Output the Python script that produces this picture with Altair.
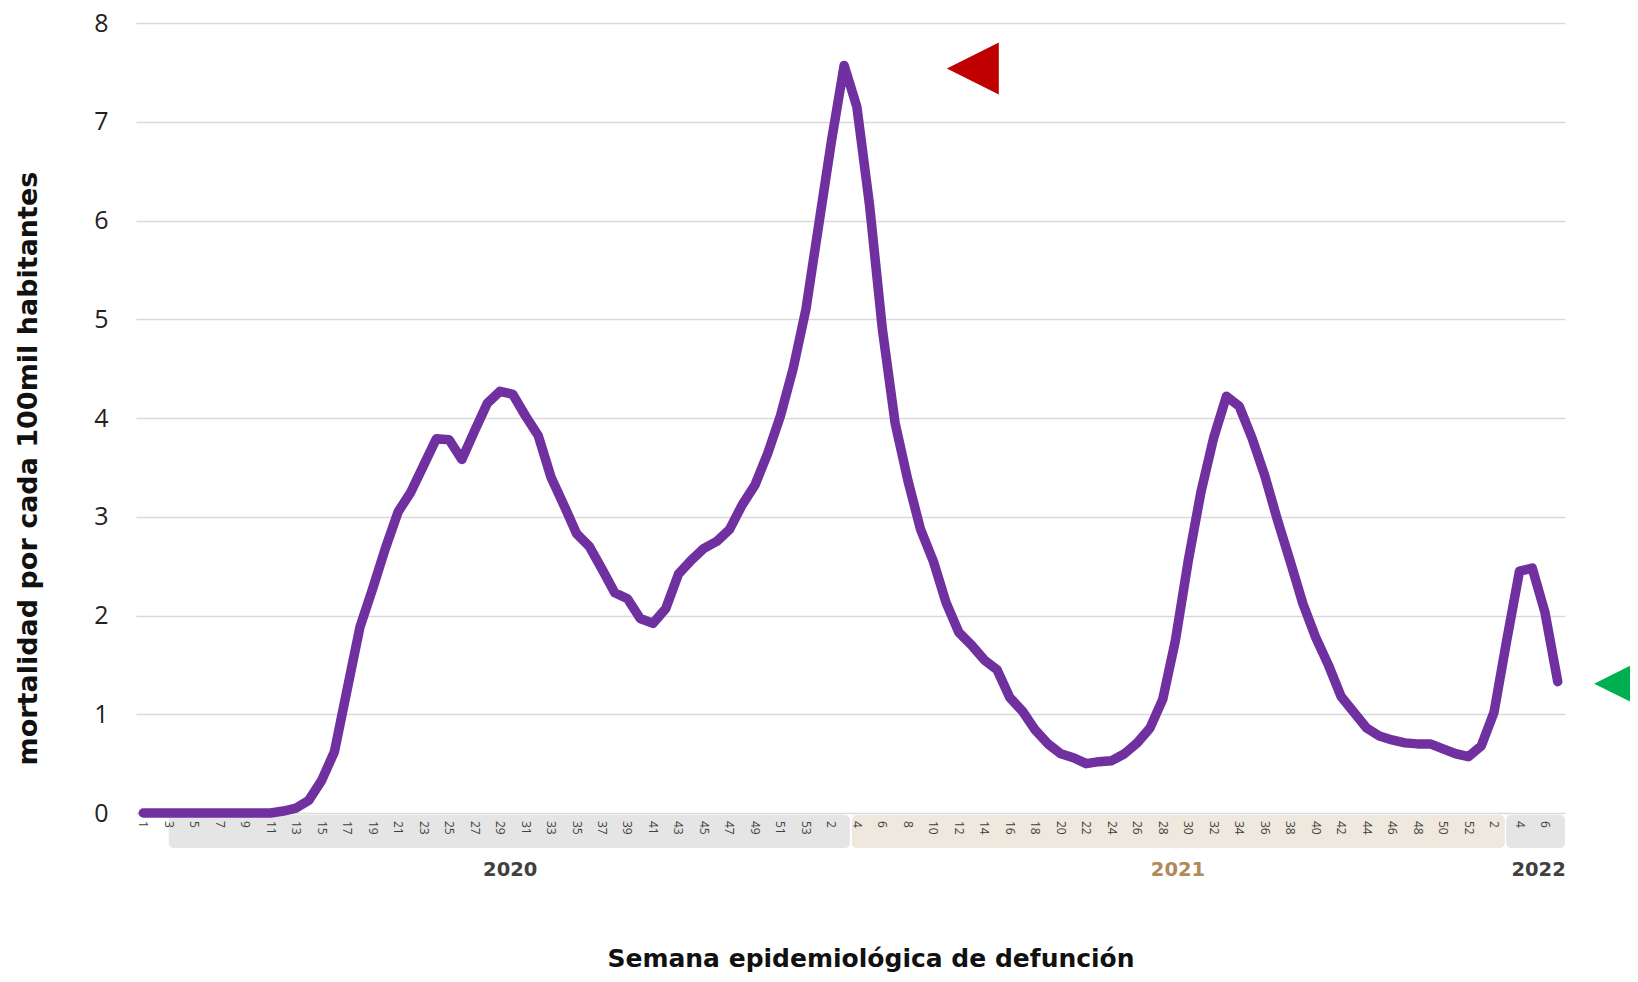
import altair as alt
import pandas as pd

# ---- data -------------------------------------------------------------
years = [2020] * 53 + [2021] * 52 + [2022] * 7
weeks = list(range(1, 54)) + list(range(1, 53)) + list(range(1, 8))

values_2020 = [0, 0, 0, 0, 0, 0, 0, 0, 0, 0, 0,
               0.02, 0.05, 0.13, 0.33, 0.62, 1.25, 1.88, 2.27, 2.68, 3.05,
               3.25, 3.52, 3.79, 3.78, 3.58, 3.87, 4.15, 4.27, 4.24, 4.02,
               3.82, 3.40, 3.12, 2.83, 2.70, 2.47, 2.23, 2.17, 1.97, 1.92,
               2.07, 2.42, 2.56, 2.68, 2.75, 2.87, 3.12, 3.32, 3.64, 4.02,
               4.50, 5.10]
values_2021 = [5.95, 6.80, 7.57, 7.15, 6.15, 4.90, 3.95, 3.37, 2.87, 2.55,
               2.13, 1.83, 1.70, 1.55, 1.45, 1.17, 1.03, 0.84, 0.70, 0.60,
               0.56, 0.50, 0.52, 0.53, 0.60, 0.71, 0.86, 1.15, 1.75, 2.55,
               3.25, 3.80, 4.22, 4.12, 3.80, 3.42, 2.97, 2.55, 2.12, 1.78,
               1.50, 1.18, 1.02, 0.86, 0.78, 0.74, 0.71, 0.70, 0.70, 0.65,
               0.60, 0.57]
values_2022 = [0.68, 1.02, 1.75, 2.45, 2.48, 2.03, 1.33]
values = values_2020 + values_2021 + values_2022

# background bands behind the week labels (start / end on the week index)
band_start = [2.0, 55.6, 106.95]
band_end = [55.45, 106.85, 111.57]
band_color = ["#e5e5e5", "#efe8de", "#e5e5e5"]

# year labels
year_text = ["2020", "2021", "2022"]
year_pos = [28.8, 81.2, 109.5]
year_color = ["#404040", "#b08a5a", "#404040"]

# arrow markers
arrow_pos = [65.1, 115.9]
arrow_val = [7.54, 1.31]
arrow_color = ["#c00000", "#00b050"]

FONT = "Open Sans"
TFONT = "DejaVu Sans"

# ---- tables -----------------------------------------------------------
df = pd.DataFrame({"idx": list(range(len(values))), "year": years,
                   "week": weeks, "value": values})
wk = df[df["idx"] % 2 == 0][["idx", "week"]].copy()
wk["label"] = wk["week"].astype(str)
bands = pd.DataFrame({"start": band_start, "end": band_end, "col": band_color})
ylab = pd.DataFrame({"text": year_text, "pos": year_pos, "col": year_color})
arrows = pd.DataFrame({"pos": arrow_pos, "val": arrow_val, "col": arrow_color})

xscale = alt.Scale(domain=[-0.57, 111.57], nice=False, zero=False)
yscale = alt.Scale(domain=[0, 8], nice=False)

band_layer = alt.Chart(bands).mark_rect(cornerRadius=5).encode(
    x=alt.X("start:Q", scale=xscale, axis=None),
    x2="end:Q",
    y=alt.value(792),
    y2=alt.value(825),
    color=alt.Color("col:N", scale=None),
)

week_labels = alt.Chart(wk).mark_text(
    angle=90, align="left", baseline="middle", font=FONT, fontSize=12,
    color="#404040"
).encode(
    x=alt.X("idx:Q", scale=xscale, axis=None),
    y=alt.value(798),
    text="label:N",
)

line = alt.Chart(df).mark_line(
    color="#7030a0", strokeWidth=9.5, strokeCap="round", strokeJoin="round"
).encode(
    x=alt.X("idx:Q", scale=xscale, axis=None),
    y=alt.Y("value:Q", scale=yscale,
            title="mortalidad por cada 100mil habitantes",
            axis=alt.Axis(values=list(range(0, 9)), format="d", labelFontSize=25,
                          labelColor="#222222", labelFont=FONT, labelPadding=28,
                          ticks=False, domain=False, grid=True,
                          gridColor="#d9d9d9", gridWidth=1.5,
                          titleFont=TFONT, titleFontSize=27, titleFontWeight="bold",
                          titleColor="#111111", titleX=-108, titleY=445,
                          titleAngle=270, titleAlign="center",
                          titleBaseline="middle")),
)

year_layer = alt.Chart(ylab).mark_text(
    font=TFONT, fontSize=19.5, fontWeight="bold", baseline="middle", align="center"
).encode(
    x=alt.X("pos:Q", scale=xscale, axis=None),
    y=alt.value(847),
    text="text:N",
    color=alt.Color("col:N", scale=None),
)

arrow_layer = alt.Chart(arrows).mark_point(
    shape="M-1,0L1,-1L1,1Z", size=2704, filled=True, opacity=1, strokeWidth=0
).encode(
    x=alt.X("pos:Q", scale=xscale, axis=None),
    y=alt.Y("val:Q", scale=yscale),
    color=alt.Color("col:N", scale=None),
)

xtitle = alt.Chart(pd.DataFrame({"t": ["Semana epidemiológica de defunción"]})).mark_text(
    font=TFONT, fontSize=25, fontWeight="bold", color="#111111",
    align="center", baseline="alphabetic"
).encode(
    x=alt.value(735),
    y=alt.value(944),
    text="t:N",
)

chart = alt.layer(band_layer, week_labels, line, year_layer, arrow_layer, xtitle).properties(
    width=1429,
    height=790,
    autosize=alt.AutoSizeParams(type="none"),
    padding={"left": 128, "top": 15, "right": 65, "bottom": 161},
    background="#ffffff",
).configure_view(strokeWidth=0)

chart.save("out.html", embed_options={"renderer": "svg", "actions": False})
